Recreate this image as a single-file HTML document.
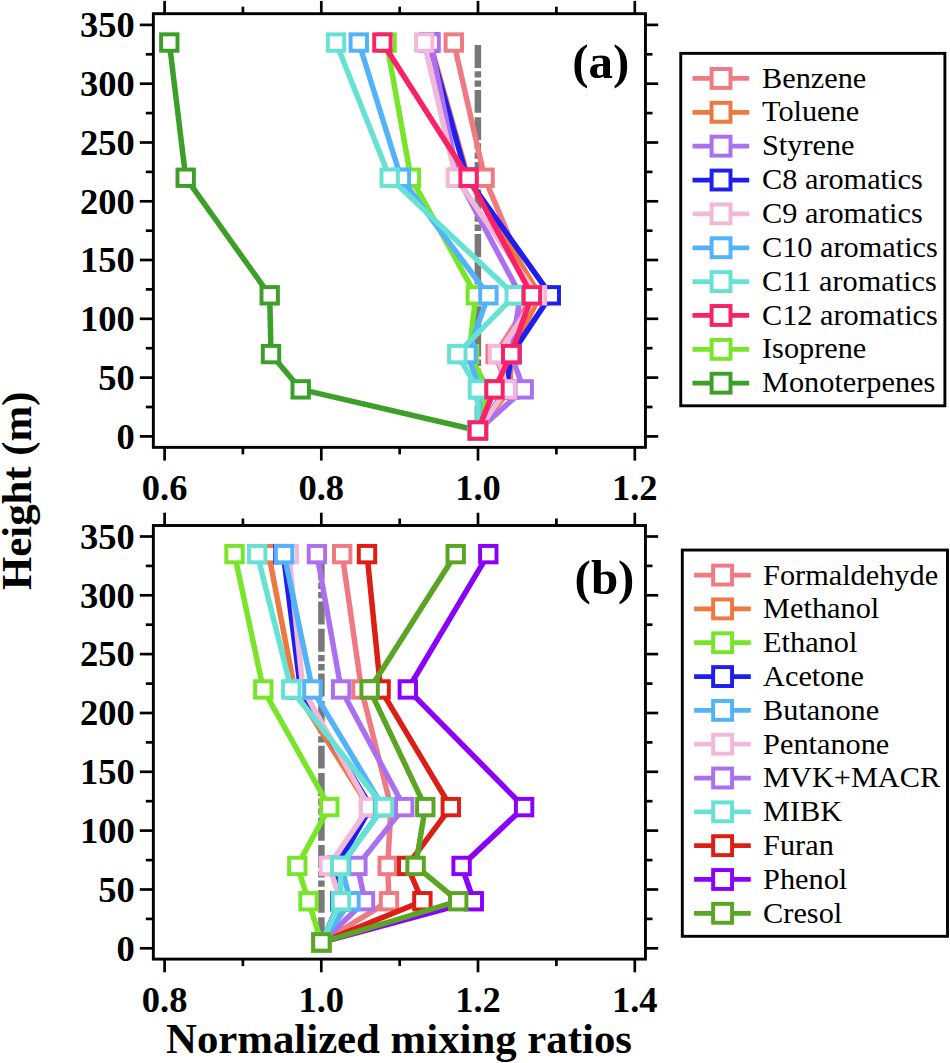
<!DOCTYPE html>
<html><head><meta charset="utf-8"><style>
html,body{margin:0;padding:0;background:#fff;}
svg{display:block;}
.tk{font-family:"Liberation Serif",serif;font-weight:bold;font-size:36.5px;fill:#000;}
.ax{font-family:"Liberation Serif",serif;font-weight:bold;font-size:42.8px;fill:#000;}
.pl{font-family:"Liberation Serif",serif;font-weight:bold;font-size:48px;fill:#000;}
.lg{font-family:"Liberation Serif",serif;font-size:30.3px;fill:#000;}
</style></head><body>
<svg width="950" height="1063" viewBox="0 0 950 1063">
<rect width="950" height="1063" fill="#fff"/>
<g stroke="#000" stroke-width="2.7">
<line x1="164.6" y1="447.4" x2="164.6" y2="460.6"/>
<line x1="164.6" y1="13.7" x2="164.6" y2="0.9"/>
<line x1="321.3" y1="447.4" x2="321.3" y2="460.6"/>
<line x1="321.3" y1="13.7" x2="321.3" y2="0.9"/>
<line x1="478.0" y1="447.4" x2="478.0" y2="460.6"/>
<line x1="478.0" y1="13.7" x2="478.0" y2="0.9"/>
<line x1="634.8" y1="447.4" x2="634.8" y2="460.6"/>
<line x1="634.8" y1="13.7" x2="634.8" y2="0.9"/>
<line x1="242.9" y1="447.4" x2="242.9" y2="454.4"/>
<line x1="242.9" y1="13.7" x2="242.9" y2="6.7"/>
<line x1="399.7" y1="447.4" x2="399.7" y2="454.4"/>
<line x1="399.7" y1="13.7" x2="399.7" y2="6.7"/>
<line x1="556.4" y1="447.4" x2="556.4" y2="454.4"/>
<line x1="556.4" y1="13.7" x2="556.4" y2="6.7"/>
<line x1="153.3" y1="436.4" x2="139.8" y2="436.4"/>
<line x1="645.5" y1="436.4" x2="658.2" y2="436.4"/>
<line x1="153.3" y1="377.6" x2="139.8" y2="377.6"/>
<line x1="645.5" y1="377.6" x2="658.2" y2="377.6"/>
<line x1="153.3" y1="318.8" x2="139.8" y2="318.8"/>
<line x1="645.5" y1="318.8" x2="658.2" y2="318.8"/>
<line x1="153.3" y1="260.0" x2="139.8" y2="260.0"/>
<line x1="645.5" y1="260.0" x2="658.2" y2="260.0"/>
<line x1="153.3" y1="201.3" x2="139.8" y2="201.3"/>
<line x1="645.5" y1="201.3" x2="658.2" y2="201.3"/>
<line x1="153.3" y1="142.5" x2="139.8" y2="142.5"/>
<line x1="645.5" y1="142.5" x2="658.2" y2="142.5"/>
<line x1="153.3" y1="83.7" x2="139.8" y2="83.7"/>
<line x1="645.5" y1="83.7" x2="658.2" y2="83.7"/>
<line x1="153.3" y1="24.9" x2="139.8" y2="24.9"/>
<line x1="645.5" y1="24.9" x2="658.2" y2="24.9"/>
<line x1="153.3" y1="407.0" x2="145.8" y2="407.0"/>
<line x1="645.5" y1="407.0" x2="652.5" y2="407.0"/>
<line x1="153.3" y1="348.2" x2="145.8" y2="348.2"/>
<line x1="645.5" y1="348.2" x2="652.5" y2="348.2"/>
<line x1="153.3" y1="289.4" x2="145.8" y2="289.4"/>
<line x1="645.5" y1="289.4" x2="652.5" y2="289.4"/>
<line x1="153.3" y1="230.7" x2="145.8" y2="230.7"/>
<line x1="645.5" y1="230.7" x2="652.5" y2="230.7"/>
<line x1="153.3" y1="171.9" x2="145.8" y2="171.9"/>
<line x1="645.5" y1="171.9" x2="652.5" y2="171.9"/>
<line x1="153.3" y1="113.1" x2="145.8" y2="113.1"/>
<line x1="645.5" y1="113.1" x2="652.5" y2="113.1"/>
<line x1="153.3" y1="54.3" x2="145.8" y2="54.3"/>
<line x1="645.5" y1="54.3" x2="652.5" y2="54.3"/>
<line x1="164.6" y1="959.1" x2="164.6" y2="972.3"/>
<line x1="164.6" y1="525.5" x2="164.6" y2="512.7"/>
<line x1="321.3" y1="959.1" x2="321.3" y2="972.3"/>
<line x1="321.3" y1="525.5" x2="321.3" y2="512.7"/>
<line x1="478.0" y1="959.1" x2="478.0" y2="972.3"/>
<line x1="478.0" y1="525.5" x2="478.0" y2="512.7"/>
<line x1="634.8" y1="959.1" x2="634.8" y2="972.3"/>
<line x1="634.8" y1="525.5" x2="634.8" y2="512.7"/>
<line x1="242.9" y1="959.1" x2="242.9" y2="966.1"/>
<line x1="242.9" y1="525.5" x2="242.9" y2="518.5"/>
<line x1="399.7" y1="959.1" x2="399.7" y2="966.1"/>
<line x1="399.7" y1="525.5" x2="399.7" y2="518.5"/>
<line x1="556.4" y1="959.1" x2="556.4" y2="966.1"/>
<line x1="556.4" y1="525.5" x2="556.4" y2="518.5"/>
<line x1="153.3" y1="948.3" x2="139.8" y2="948.3"/>
<line x1="645.5" y1="948.3" x2="658.2" y2="948.3"/>
<line x1="153.3" y1="889.5" x2="139.8" y2="889.5"/>
<line x1="645.5" y1="889.5" x2="658.2" y2="889.5"/>
<line x1="153.3" y1="830.6" x2="139.8" y2="830.6"/>
<line x1="645.5" y1="830.6" x2="658.2" y2="830.6"/>
<line x1="153.3" y1="771.8" x2="139.8" y2="771.8"/>
<line x1="645.5" y1="771.8" x2="658.2" y2="771.8"/>
<line x1="153.3" y1="713.0" x2="139.8" y2="713.0"/>
<line x1="645.5" y1="713.0" x2="658.2" y2="713.0"/>
<line x1="153.3" y1="654.1" x2="139.8" y2="654.1"/>
<line x1="645.5" y1="654.1" x2="658.2" y2="654.1"/>
<line x1="153.3" y1="595.3" x2="139.8" y2="595.3"/>
<line x1="645.5" y1="595.3" x2="658.2" y2="595.3"/>
<line x1="153.3" y1="536.5" x2="139.8" y2="536.5"/>
<line x1="645.5" y1="536.5" x2="658.2" y2="536.5"/>
<line x1="153.3" y1="918.9" x2="145.8" y2="918.9"/>
<line x1="645.5" y1="918.9" x2="652.5" y2="918.9"/>
<line x1="153.3" y1="860.1" x2="145.8" y2="860.1"/>
<line x1="645.5" y1="860.1" x2="652.5" y2="860.1"/>
<line x1="153.3" y1="801.2" x2="145.8" y2="801.2"/>
<line x1="645.5" y1="801.2" x2="652.5" y2="801.2"/>
<line x1="153.3" y1="742.4" x2="145.8" y2="742.4"/>
<line x1="645.5" y1="742.4" x2="652.5" y2="742.4"/>
<line x1="153.3" y1="683.6" x2="145.8" y2="683.6"/>
<line x1="645.5" y1="683.6" x2="652.5" y2="683.6"/>
<line x1="153.3" y1="624.7" x2="145.8" y2="624.7"/>
<line x1="645.5" y1="624.7" x2="652.5" y2="624.7"/>
<line x1="153.3" y1="565.9" x2="145.8" y2="565.9"/>
<line x1="645.5" y1="565.9" x2="652.5" y2="565.9"/>
</g>
<line x1="477.9" y1="45.1" x2="477.9" y2="430.5" stroke="#787878" stroke-width="6.5" stroke-dasharray="22.9 3.2 6.3 2.9 6.3 3.2 22.9 4.4"/>
<line x1="321.4" y1="556.7" x2="321.4" y2="942.4" stroke="#787878" stroke-width="6.5" stroke-dasharray="22.9 3.2 6.3 2.9 6.3 3.2 22.9 4.4"/>
<polyline points="477.9,430.5 300.7,389.4 271.0,354.1 269.7,295.3 185.7,177.7 169.3,42.5" fill="none" stroke="#3CA028" stroke-width="5.5" stroke-linejoin="miter"/>
<rect x="469.70" y="422.32" width="16.4" height="16.4" fill="#fff" stroke="#3CA028" stroke-width="3.95"/>
<rect x="292.50" y="381.17" width="16.4" height="16.4" fill="#fff" stroke="#3CA028" stroke-width="3.95"/>
<rect x="262.80" y="345.90" width="16.4" height="16.4" fill="#fff" stroke="#3CA028" stroke-width="3.95"/>
<rect x="261.50" y="287.12" width="16.4" height="16.4" fill="#fff" stroke="#3CA028" stroke-width="3.95"/>
<rect x="177.50" y="169.55" width="16.4" height="16.4" fill="#fff" stroke="#3CA028" stroke-width="3.95"/>
<rect x="161.10" y="34.34" width="16.4" height="16.4" fill="#fff" stroke="#3CA028" stroke-width="3.95"/>
<polyline points="477.9,430.5 488.0,389.4 469.0,354.1 475.8,295.3 410.9,177.7 386.6,42.5" fill="none" stroke="#78E628" stroke-width="5.5" stroke-linejoin="miter"/>
<rect x="469.70" y="422.32" width="16.4" height="16.4" fill="#fff" stroke="#78E628" stroke-width="3.95"/>
<rect x="479.80" y="381.17" width="16.4" height="16.4" fill="#fff" stroke="#78E628" stroke-width="3.95"/>
<rect x="460.80" y="345.90" width="16.4" height="16.4" fill="#fff" stroke="#78E628" stroke-width="3.95"/>
<rect x="467.60" y="287.12" width="16.4" height="16.4" fill="#fff" stroke="#78E628" stroke-width="3.95"/>
<rect x="402.70" y="169.55" width="16.4" height="16.4" fill="#fff" stroke="#78E628" stroke-width="3.95"/>
<rect x="378.40" y="34.34" width="16.4" height="16.4" fill="#fff" stroke="#78E628" stroke-width="3.95"/>
<polyline points="477.9,430.5 507.5,389.4 495.6,354.1 533.5,295.3 484.6,177.7 453.8,42.5" fill="none" stroke="#F07A82" stroke-width="5.5" stroke-linejoin="miter"/>
<rect x="469.70" y="422.32" width="16.4" height="16.4" fill="#fff" stroke="#F07A82" stroke-width="3.95"/>
<rect x="499.30" y="381.17" width="16.4" height="16.4" fill="#fff" stroke="#F07A82" stroke-width="3.95"/>
<rect x="487.40" y="345.90" width="16.4" height="16.4" fill="#fff" stroke="#F07A82" stroke-width="3.95"/>
<rect x="525.30" y="287.12" width="16.4" height="16.4" fill="#fff" stroke="#F07A82" stroke-width="3.95"/>
<rect x="476.40" y="169.55" width="16.4" height="16.4" fill="#fff" stroke="#F07A82" stroke-width="3.95"/>
<rect x="445.60" y="34.34" width="16.4" height="16.4" fill="#fff" stroke="#F07A82" stroke-width="3.95"/>
<polyline points="477.9,430.5 510.0,389.4 511.0,354.1 540.0,295.3 468.0,177.7 430.0,42.5" fill="none" stroke="#EE7840" stroke-width="5.5" stroke-linejoin="miter"/>
<rect x="469.70" y="422.32" width="16.4" height="16.4" fill="#fff" stroke="#EE7840" stroke-width="3.95"/>
<rect x="501.80" y="381.17" width="16.4" height="16.4" fill="#fff" stroke="#EE7840" stroke-width="3.95"/>
<rect x="502.80" y="345.90" width="16.4" height="16.4" fill="#fff" stroke="#EE7840" stroke-width="3.95"/>
<rect x="531.80" y="287.12" width="16.4" height="16.4" fill="#fff" stroke="#EE7840" stroke-width="3.95"/>
<rect x="459.80" y="169.55" width="16.4" height="16.4" fill="#fff" stroke="#EE7840" stroke-width="3.95"/>
<rect x="421.80" y="34.34" width="16.4" height="16.4" fill="#fff" stroke="#EE7840" stroke-width="3.95"/>
<polyline points="477.9,430.5 506.0,389.4 511.5,354.1 550.8,295.3 467.0,177.7 429.0,42.5" fill="none" stroke="#1E1EF0" stroke-width="5.5" stroke-linejoin="miter"/>
<rect x="469.70" y="422.32" width="16.4" height="16.4" fill="#fff" stroke="#1E1EF0" stroke-width="3.95"/>
<rect x="497.80" y="381.17" width="16.4" height="16.4" fill="#fff" stroke="#1E1EF0" stroke-width="3.95"/>
<rect x="503.30" y="345.90" width="16.4" height="16.4" fill="#fff" stroke="#1E1EF0" stroke-width="3.95"/>
<rect x="542.60" y="287.12" width="16.4" height="16.4" fill="#fff" stroke="#1E1EF0" stroke-width="3.95"/>
<rect x="458.80" y="169.55" width="16.4" height="16.4" fill="#fff" stroke="#1E1EF0" stroke-width="3.95"/>
<rect x="420.80" y="34.34" width="16.4" height="16.4" fill="#fff" stroke="#1E1EF0" stroke-width="3.95"/>
<polyline points="477.9,430.5 523.7,389.4 511.0,354.1 520.4,295.3 458.0,177.7 430.6,42.5" fill="none" stroke="#AA70F0" stroke-width="5.5" stroke-linejoin="miter"/>
<rect x="469.70" y="422.32" width="16.4" height="16.4" fill="#fff" stroke="#AA70F0" stroke-width="3.95"/>
<rect x="515.50" y="381.17" width="16.4" height="16.4" fill="#fff" stroke="#AA70F0" stroke-width="3.95"/>
<rect x="502.80" y="345.90" width="16.4" height="16.4" fill="#fff" stroke="#AA70F0" stroke-width="3.95"/>
<rect x="512.20" y="287.12" width="16.4" height="16.4" fill="#fff" stroke="#AA70F0" stroke-width="3.95"/>
<rect x="449.80" y="169.55" width="16.4" height="16.4" fill="#fff" stroke="#AA70F0" stroke-width="3.95"/>
<rect x="422.40" y="34.34" width="16.4" height="16.4" fill="#fff" stroke="#AA70F0" stroke-width="3.95"/>
<polyline points="477.9,430.5 506.6,389.4 498.0,354.1 537.0,295.3 455.9,177.7 424.2,42.5" fill="none" stroke="#F2B8DA" stroke-width="5.5" stroke-linejoin="miter"/>
<rect x="469.70" y="422.32" width="16.4" height="16.4" fill="#fff" stroke="#F2B8DA" stroke-width="3.95"/>
<rect x="498.40" y="381.17" width="16.4" height="16.4" fill="#fff" stroke="#F2B8DA" stroke-width="3.95"/>
<rect x="489.80" y="345.90" width="16.4" height="16.4" fill="#fff" stroke="#F2B8DA" stroke-width="3.95"/>
<rect x="528.80" y="287.12" width="16.4" height="16.4" fill="#fff" stroke="#F2B8DA" stroke-width="3.95"/>
<rect x="447.70" y="169.55" width="16.4" height="16.4" fill="#fff" stroke="#F2B8DA" stroke-width="3.95"/>
<rect x="416.00" y="34.34" width="16.4" height="16.4" fill="#fff" stroke="#F2B8DA" stroke-width="3.95"/>
<polyline points="477.9,430.5 480.0,389.4 467.4,354.1 488.4,295.3 400.9,177.7 358.8,42.5" fill="none" stroke="#52B2FA" stroke-width="5.5" stroke-linejoin="miter"/>
<rect x="469.70" y="422.32" width="16.4" height="16.4" fill="#fff" stroke="#52B2FA" stroke-width="3.95"/>
<rect x="471.80" y="381.17" width="16.4" height="16.4" fill="#fff" stroke="#52B2FA" stroke-width="3.95"/>
<rect x="459.20" y="345.90" width="16.4" height="16.4" fill="#fff" stroke="#52B2FA" stroke-width="3.95"/>
<rect x="480.20" y="287.12" width="16.4" height="16.4" fill="#fff" stroke="#52B2FA" stroke-width="3.95"/>
<rect x="392.70" y="169.55" width="16.4" height="16.4" fill="#fff" stroke="#52B2FA" stroke-width="3.95"/>
<rect x="350.60" y="34.34" width="16.4" height="16.4" fill="#fff" stroke="#52B2FA" stroke-width="3.95"/>
<polyline points="477.9,430.5 477.9,389.4 457.3,354.1 514.7,295.3 389.7,177.7 336.0,42.5" fill="none" stroke="#66E2D4" stroke-width="5.5" stroke-linejoin="miter"/>
<rect x="469.70" y="422.32" width="16.4" height="16.4" fill="#fff" stroke="#66E2D4" stroke-width="3.95"/>
<rect x="469.70" y="381.17" width="16.4" height="16.4" fill="#fff" stroke="#66E2D4" stroke-width="3.95"/>
<rect x="449.10" y="345.90" width="16.4" height="16.4" fill="#fff" stroke="#66E2D4" stroke-width="3.95"/>
<rect x="506.50" y="287.12" width="16.4" height="16.4" fill="#fff" stroke="#66E2D4" stroke-width="3.95"/>
<rect x="381.50" y="169.55" width="16.4" height="16.4" fill="#fff" stroke="#66E2D4" stroke-width="3.95"/>
<rect x="327.80" y="34.34" width="16.4" height="16.4" fill="#fff" stroke="#66E2D4" stroke-width="3.95"/>
<polyline points="477.9,430.5 494.5,389.4 511.2,354.1 531.9,295.3 468.6,177.7 382.4,42.5" fill="none" stroke="#FA2266" stroke-width="5.5" stroke-linejoin="miter"/>
<rect x="469.70" y="422.32" width="16.4" height="16.4" fill="#fff" stroke="#FA2266" stroke-width="3.95"/>
<rect x="486.30" y="381.17" width="16.4" height="16.4" fill="#fff" stroke="#FA2266" stroke-width="3.95"/>
<rect x="503.00" y="345.90" width="16.4" height="16.4" fill="#fff" stroke="#FA2266" stroke-width="3.95"/>
<rect x="523.70" y="287.12" width="16.4" height="16.4" fill="#fff" stroke="#FA2266" stroke-width="3.95"/>
<rect x="460.40" y="169.55" width="16.4" height="16.4" fill="#fff" stroke="#FA2266" stroke-width="3.95"/>
<rect x="374.20" y="34.34" width="16.4" height="16.4" fill="#fff" stroke="#FA2266" stroke-width="3.95"/>
<polyline points="321.4,942.4 389.0,901.2 387.7,865.9 391.0,807.1 361.5,689.4 342.2,554.1" fill="none" stroke="#F07A82" stroke-width="5.5" stroke-linejoin="miter"/>
<rect x="313.20" y="934.22" width="16.4" height="16.4" fill="#fff" stroke="#F07A82" stroke-width="3.95"/>
<rect x="380.80" y="893.04" width="16.4" height="16.4" fill="#fff" stroke="#F07A82" stroke-width="3.95"/>
<rect x="379.50" y="857.74" width="16.4" height="16.4" fill="#fff" stroke="#F07A82" stroke-width="3.95"/>
<rect x="382.80" y="798.91" width="16.4" height="16.4" fill="#fff" stroke="#F07A82" stroke-width="3.95"/>
<rect x="353.30" y="681.25" width="16.4" height="16.4" fill="#fff" stroke="#F07A82" stroke-width="3.95"/>
<rect x="334.00" y="545.94" width="16.4" height="16.4" fill="#fff" stroke="#F07A82" stroke-width="3.95"/>
<polyline points="321.4,942.4 422.4,901.2 407.2,865.9 450.8,807.1 380.6,689.4 367.0,554.1" fill="none" stroke="#DC1E14" stroke-width="5.5" stroke-linejoin="miter"/>
<rect x="313.20" y="934.22" width="16.4" height="16.4" fill="#fff" stroke="#DC1E14" stroke-width="3.95"/>
<rect x="414.20" y="893.04" width="16.4" height="16.4" fill="#fff" stroke="#DC1E14" stroke-width="3.95"/>
<rect x="399.00" y="857.74" width="16.4" height="16.4" fill="#fff" stroke="#DC1E14" stroke-width="3.95"/>
<rect x="442.60" y="798.91" width="16.4" height="16.4" fill="#fff" stroke="#DC1E14" stroke-width="3.95"/>
<rect x="372.40" y="681.25" width="16.4" height="16.4" fill="#fff" stroke="#DC1E14" stroke-width="3.95"/>
<rect x="358.80" y="545.94" width="16.4" height="16.4" fill="#fff" stroke="#DC1E14" stroke-width="3.95"/>
<polyline points="321.4,942.4 473.8,901.2 461.6,865.9 524.1,807.1 407.8,689.4 488.3,554.1" fill="none" stroke="#8A00FA" stroke-width="5.5" stroke-linejoin="miter"/>
<rect x="313.20" y="934.22" width="16.4" height="16.4" fill="#fff" stroke="#8A00FA" stroke-width="3.95"/>
<rect x="465.60" y="893.04" width="16.4" height="16.4" fill="#fff" stroke="#8A00FA" stroke-width="3.95"/>
<rect x="453.40" y="857.74" width="16.4" height="16.4" fill="#fff" stroke="#8A00FA" stroke-width="3.95"/>
<rect x="515.90" y="798.91" width="16.4" height="16.4" fill="#fff" stroke="#8A00FA" stroke-width="3.95"/>
<rect x="399.60" y="681.25" width="16.4" height="16.4" fill="#fff" stroke="#8A00FA" stroke-width="3.95"/>
<rect x="480.10" y="545.94" width="16.4" height="16.4" fill="#fff" stroke="#8A00FA" stroke-width="3.95"/>
<polyline points="321.4,942.4 365.0,901.2 357.4,865.9 404.2,807.1 341.1,689.4 316.9,554.1" fill="none" stroke="#AA70F0" stroke-width="5.5" stroke-linejoin="miter"/>
<rect x="313.20" y="934.22" width="16.4" height="16.4" fill="#fff" stroke="#AA70F0" stroke-width="3.95"/>
<rect x="356.80" y="893.04" width="16.4" height="16.4" fill="#fff" stroke="#AA70F0" stroke-width="3.95"/>
<rect x="349.20" y="857.74" width="16.4" height="16.4" fill="#fff" stroke="#AA70F0" stroke-width="3.95"/>
<rect x="396.00" y="798.91" width="16.4" height="16.4" fill="#fff" stroke="#AA70F0" stroke-width="3.95"/>
<rect x="332.90" y="681.25" width="16.4" height="16.4" fill="#fff" stroke="#AA70F0" stroke-width="3.95"/>
<rect x="308.70" y="545.94" width="16.4" height="16.4" fill="#fff" stroke="#AA70F0" stroke-width="3.95"/>
<polyline points="321.4,942.4 342.0,901.2 332.0,865.9 369.0,807.1 294.7,689.4 268.7,554.1" fill="none" stroke="#EE7840" stroke-width="5.5" stroke-linejoin="miter"/>
<rect x="313.20" y="934.22" width="16.4" height="16.4" fill="#fff" stroke="#EE7840" stroke-width="3.95"/>
<rect x="333.80" y="893.04" width="16.4" height="16.4" fill="#fff" stroke="#EE7840" stroke-width="3.95"/>
<rect x="323.80" y="857.74" width="16.4" height="16.4" fill="#fff" stroke="#EE7840" stroke-width="3.95"/>
<rect x="360.80" y="798.91" width="16.4" height="16.4" fill="#fff" stroke="#EE7840" stroke-width="3.95"/>
<rect x="286.50" y="681.25" width="16.4" height="16.4" fill="#fff" stroke="#EE7840" stroke-width="3.95"/>
<rect x="260.50" y="545.94" width="16.4" height="16.4" fill="#fff" stroke="#EE7840" stroke-width="3.95"/>
<polyline points="321.4,942.4 340.2,901.2 337.0,865.9 371.0,807.1 300.5,689.4 283.4,554.1" fill="none" stroke="#1E1EF0" stroke-width="5.5" stroke-linejoin="miter"/>
<rect x="313.20" y="934.22" width="16.4" height="16.4" fill="#fff" stroke="#1E1EF0" stroke-width="3.95"/>
<rect x="332.00" y="893.04" width="16.4" height="16.4" fill="#fff" stroke="#1E1EF0" stroke-width="3.95"/>
<rect x="328.80" y="857.74" width="16.4" height="16.4" fill="#fff" stroke="#1E1EF0" stroke-width="3.95"/>
<rect x="362.80" y="798.91" width="16.4" height="16.4" fill="#fff" stroke="#1E1EF0" stroke-width="3.95"/>
<rect x="292.30" y="681.25" width="16.4" height="16.4" fill="#fff" stroke="#1E1EF0" stroke-width="3.95"/>
<rect x="275.20" y="545.94" width="16.4" height="16.4" fill="#fff" stroke="#1E1EF0" stroke-width="3.95"/>
<polyline points="321.4,942.4 341.0,901.2 328.9,865.9 369.2,807.1 303.0,689.4 288.8,554.1" fill="none" stroke="#F2B8DA" stroke-width="5.5" stroke-linejoin="miter"/>
<rect x="313.20" y="934.22" width="16.4" height="16.4" fill="#fff" stroke="#F2B8DA" stroke-width="3.95"/>
<rect x="332.80" y="893.04" width="16.4" height="16.4" fill="#fff" stroke="#F2B8DA" stroke-width="3.95"/>
<rect x="320.70" y="857.74" width="16.4" height="16.4" fill="#fff" stroke="#F2B8DA" stroke-width="3.95"/>
<rect x="361.00" y="798.91" width="16.4" height="16.4" fill="#fff" stroke="#F2B8DA" stroke-width="3.95"/>
<rect x="294.80" y="681.25" width="16.4" height="16.4" fill="#fff" stroke="#F2B8DA" stroke-width="3.95"/>
<rect x="280.60" y="545.94" width="16.4" height="16.4" fill="#fff" stroke="#F2B8DA" stroke-width="3.95"/>
<polyline points="321.4,942.4 350.5,901.2 341.0,865.9 383.0,807.1 312.4,689.4 284.1,554.1" fill="none" stroke="#52B2FA" stroke-width="5.5" stroke-linejoin="miter"/>
<rect x="313.20" y="934.22" width="16.4" height="16.4" fill="#fff" stroke="#52B2FA" stroke-width="3.95"/>
<rect x="342.30" y="893.04" width="16.4" height="16.4" fill="#fff" stroke="#52B2FA" stroke-width="3.95"/>
<rect x="332.80" y="857.74" width="16.4" height="16.4" fill="#fff" stroke="#52B2FA" stroke-width="3.95"/>
<rect x="374.80" y="798.91" width="16.4" height="16.4" fill="#fff" stroke="#52B2FA" stroke-width="3.95"/>
<rect x="304.20" y="681.25" width="16.4" height="16.4" fill="#fff" stroke="#52B2FA" stroke-width="3.95"/>
<rect x="275.90" y="545.94" width="16.4" height="16.4" fill="#fff" stroke="#52B2FA" stroke-width="3.95"/>
<polyline points="321.4,942.4 341.0,901.2 340.2,865.9 384.0,807.1 291.3,689.4 257.2,554.1" fill="none" stroke="#66E2D4" stroke-width="5.5" stroke-linejoin="miter"/>
<rect x="313.20" y="934.22" width="16.4" height="16.4" fill="#fff" stroke="#66E2D4" stroke-width="3.95"/>
<rect x="332.80" y="893.04" width="16.4" height="16.4" fill="#fff" stroke="#66E2D4" stroke-width="3.95"/>
<rect x="332.00" y="857.74" width="16.4" height="16.4" fill="#fff" stroke="#66E2D4" stroke-width="3.95"/>
<rect x="375.80" y="798.91" width="16.4" height="16.4" fill="#fff" stroke="#66E2D4" stroke-width="3.95"/>
<rect x="283.10" y="681.25" width="16.4" height="16.4" fill="#fff" stroke="#66E2D4" stroke-width="3.95"/>
<rect x="249.00" y="545.94" width="16.4" height="16.4" fill="#fff" stroke="#66E2D4" stroke-width="3.95"/>
<polyline points="321.4,942.4 308.5,901.2 297.3,865.9 329.3,807.1 263.3,689.4 234.5,554.1" fill="none" stroke="#78E628" stroke-width="5.5" stroke-linejoin="miter"/>
<rect x="313.20" y="934.22" width="16.4" height="16.4" fill="#fff" stroke="#78E628" stroke-width="3.95"/>
<rect x="300.30" y="893.04" width="16.4" height="16.4" fill="#fff" stroke="#78E628" stroke-width="3.95"/>
<rect x="289.10" y="857.74" width="16.4" height="16.4" fill="#fff" stroke="#78E628" stroke-width="3.95"/>
<rect x="321.10" y="798.91" width="16.4" height="16.4" fill="#fff" stroke="#78E628" stroke-width="3.95"/>
<rect x="255.10" y="681.25" width="16.4" height="16.4" fill="#fff" stroke="#78E628" stroke-width="3.95"/>
<rect x="226.30" y="545.94" width="16.4" height="16.4" fill="#fff" stroke="#78E628" stroke-width="3.95"/>
<polyline points="321.4,942.4 458.2,901.2 415.6,865.9 425.3,807.1 369.6,689.4 455.7,554.1" fill="none" stroke="#5AA523" stroke-width="5.5" stroke-linejoin="miter"/>
<rect x="313.20" y="934.22" width="16.4" height="16.4" fill="#fff" stroke="#5AA523" stroke-width="3.95"/>
<rect x="450.00" y="893.04" width="16.4" height="16.4" fill="#fff" stroke="#5AA523" stroke-width="3.95"/>
<rect x="407.40" y="857.74" width="16.4" height="16.4" fill="#fff" stroke="#5AA523" stroke-width="3.95"/>
<rect x="417.10" y="798.91" width="16.4" height="16.4" fill="#fff" stroke="#5AA523" stroke-width="3.95"/>
<rect x="361.40" y="681.25" width="16.4" height="16.4" fill="#fff" stroke="#5AA523" stroke-width="3.95"/>
<rect x="447.50" y="545.94" width="16.4" height="16.4" fill="#fff" stroke="#5AA523" stroke-width="3.95"/>
<rect x="153.35" y="13.7" width="492.10" height="433.65" fill="none" stroke="#000" stroke-width="2.9"/>
<rect x="153.35" y="525.5" width="492.10" height="433.60" fill="none" stroke="#000" stroke-width="2.9"/>
<text x="164.6" y="500.0" class="tk" text-anchor="middle">0.6</text>
<text x="321.3" y="500.0" class="tk" text-anchor="middle">0.8</text>
<text x="478.0" y="500.0" class="tk" text-anchor="middle">1.0</text>
<text x="634.8" y="500.0" class="tk" text-anchor="middle">1.2</text>
<text x="164.6" y="1012.4" class="tk" text-anchor="middle">0.8</text>
<text x="321.3" y="1012.4" class="tk" text-anchor="middle">1.0</text>
<text x="478.0" y="1012.4" class="tk" text-anchor="middle">1.2</text>
<text x="634.8" y="1012.4" class="tk" text-anchor="middle">1.4</text>
<text x="134.8" y="448.6" class="tk" text-anchor="end">0</text>
<text x="134.8" y="960.5" class="tk" text-anchor="end">0</text>
<text x="134.8" y="389.8" class="tk" text-anchor="end">50</text>
<text x="134.8" y="901.7" class="tk" text-anchor="end">50</text>
<text x="134.8" y="331.0" class="tk" text-anchor="end">100</text>
<text x="134.8" y="842.8" class="tk" text-anchor="end">100</text>
<text x="134.8" y="272.2" class="tk" text-anchor="end">150</text>
<text x="134.8" y="784.0" class="tk" text-anchor="end">150</text>
<text x="134.8" y="213.5" class="tk" text-anchor="end">200</text>
<text x="134.8" y="725.2" class="tk" text-anchor="end">200</text>
<text x="134.8" y="154.7" class="tk" text-anchor="end">250</text>
<text x="134.8" y="666.3" class="tk" text-anchor="end">250</text>
<text x="134.8" y="95.9" class="tk" text-anchor="end">300</text>
<text x="134.8" y="607.5" class="tk" text-anchor="end">300</text>
<text x="134.8" y="37.1" class="tk" text-anchor="end">350</text>
<text x="134.8" y="548.7" class="tk" text-anchor="end">350</text>
<text x="0" y="0" class="pl" transform="translate(572.2,78.0) scale(1.02,1)">(a)</text>
<text x="0" y="0" class="pl" transform="translate(574.6,593.6) scale(1.02,1)">(b)</text>
<rect x="680.75" y="53.35" width="264.15" height="352.45" fill="#fff" stroke="#000" stroke-width="2.9"/>
<line x1="692.5" y1="78.45" x2="749.2" y2="78.45" stroke="#F07A82" stroke-width="4.75"/>
<rect x="711.60" y="69.00" width="18.9" height="18.9" fill="#fff" stroke="#F07A82" stroke-width="3.95"/>
<text x="762.0" y="87.55" class="lg">Benzene</text>
<line x1="692.5" y1="112.31" x2="749.2" y2="112.31" stroke="#EE7840" stroke-width="4.75"/>
<rect x="711.60" y="102.86" width="18.9" height="18.9" fill="#fff" stroke="#EE7840" stroke-width="3.95"/>
<text x="762.0" y="121.41" class="lg">Toluene</text>
<line x1="692.5" y1="146.17" x2="749.2" y2="146.17" stroke="#AA70F0" stroke-width="4.75"/>
<rect x="711.60" y="136.72" width="18.9" height="18.9" fill="#fff" stroke="#AA70F0" stroke-width="3.95"/>
<text x="762.0" y="155.27" class="lg">Styrene</text>
<line x1="692.5" y1="180.03" x2="749.2" y2="180.03" stroke="#1E1EF0" stroke-width="4.75"/>
<rect x="711.60" y="170.58" width="18.9" height="18.9" fill="#fff" stroke="#1E1EF0" stroke-width="3.95"/>
<text x="762.0" y="189.13" class="lg">C8 aromatics</text>
<line x1="692.5" y1="213.89" x2="749.2" y2="213.89" stroke="#F2B8DA" stroke-width="4.75"/>
<rect x="711.60" y="204.44" width="18.9" height="18.9" fill="#fff" stroke="#F2B8DA" stroke-width="3.95"/>
<text x="762.0" y="222.99" class="lg">C9 aromatics</text>
<line x1="692.5" y1="247.75" x2="749.2" y2="247.75" stroke="#52B2FA" stroke-width="4.75"/>
<rect x="711.60" y="238.30" width="18.9" height="18.9" fill="#fff" stroke="#52B2FA" stroke-width="3.95"/>
<text x="762.0" y="256.85" class="lg">C10 aromatics</text>
<line x1="692.5" y1="281.61" x2="749.2" y2="281.61" stroke="#66E2D4" stroke-width="4.75"/>
<rect x="711.60" y="272.16" width="18.9" height="18.9" fill="#fff" stroke="#66E2D4" stroke-width="3.95"/>
<text x="762.0" y="290.71" class="lg">C11 aromatics</text>
<line x1="692.5" y1="315.47" x2="749.2" y2="315.47" stroke="#FA2266" stroke-width="4.75"/>
<rect x="711.60" y="306.02" width="18.9" height="18.9" fill="#fff" stroke="#FA2266" stroke-width="3.95"/>
<text x="762.0" y="324.57" class="lg">C12 aromatics</text>
<line x1="692.5" y1="349.33" x2="749.2" y2="349.33" stroke="#78E628" stroke-width="4.75"/>
<rect x="711.60" y="339.88" width="18.9" height="18.9" fill="#fff" stroke="#78E628" stroke-width="3.95"/>
<text x="762.0" y="358.43" class="lg">Isoprene</text>
<line x1="692.5" y1="383.19" x2="749.2" y2="383.19" stroke="#3CA028" stroke-width="4.75"/>
<rect x="711.60" y="373.74" width="18.9" height="18.9" fill="#fff" stroke="#3CA028" stroke-width="3.95"/>
<text x="762.0" y="392.29" class="lg">Monoterpenes</text>
<rect x="682.30" y="550.05" width="265.20" height="386.25" fill="#fff" stroke="#000" stroke-width="2.9"/>
<line x1="694.1" y1="575.10" x2="750.8" y2="575.10" stroke="#F07A82" stroke-width="4.75"/>
<rect x="713.15" y="565.65" width="18.9" height="18.9" fill="#fff" stroke="#F07A82" stroke-width="3.95"/>
<text x="763.1" y="584.50" class="lg">Formaldehyde</text>
<line x1="694.1" y1="608.92" x2="750.8" y2="608.92" stroke="#EE7840" stroke-width="4.75"/>
<rect x="713.15" y="599.47" width="18.9" height="18.9" fill="#fff" stroke="#EE7840" stroke-width="3.95"/>
<text x="763.1" y="618.32" class="lg">Methanol</text>
<line x1="694.1" y1="642.74" x2="750.8" y2="642.74" stroke="#78E628" stroke-width="4.75"/>
<rect x="713.15" y="633.29" width="18.9" height="18.9" fill="#fff" stroke="#78E628" stroke-width="3.95"/>
<text x="763.1" y="652.14" class="lg">Ethanol</text>
<line x1="694.1" y1="676.56" x2="750.8" y2="676.56" stroke="#1E1EF0" stroke-width="4.75"/>
<rect x="713.15" y="667.11" width="18.9" height="18.9" fill="#fff" stroke="#1E1EF0" stroke-width="3.95"/>
<text x="763.1" y="685.96" class="lg">Acetone</text>
<line x1="694.1" y1="710.38" x2="750.8" y2="710.38" stroke="#52B2FA" stroke-width="4.75"/>
<rect x="713.15" y="700.93" width="18.9" height="18.9" fill="#fff" stroke="#52B2FA" stroke-width="3.95"/>
<text x="763.1" y="719.78" class="lg">Butanone</text>
<line x1="694.1" y1="744.20" x2="750.8" y2="744.20" stroke="#F2B8DA" stroke-width="4.75"/>
<rect x="713.15" y="734.75" width="18.9" height="18.9" fill="#fff" stroke="#F2B8DA" stroke-width="3.95"/>
<text x="763.1" y="753.60" class="lg">Pentanone</text>
<line x1="694.1" y1="778.02" x2="750.8" y2="778.02" stroke="#AA70F0" stroke-width="4.75"/>
<rect x="713.15" y="768.57" width="18.9" height="18.9" fill="#fff" stroke="#AA70F0" stroke-width="3.95"/>
<text x="763.1" y="787.42" class="lg">MVK+MACR</text>
<line x1="694.1" y1="811.84" x2="750.8" y2="811.84" stroke="#66E2D4" stroke-width="4.75"/>
<rect x="713.15" y="802.39" width="18.9" height="18.9" fill="#fff" stroke="#66E2D4" stroke-width="3.95"/>
<text x="763.1" y="821.24" class="lg">MIBK</text>
<line x1="694.1" y1="845.66" x2="750.8" y2="845.66" stroke="#DC1E14" stroke-width="4.75"/>
<rect x="713.15" y="836.21" width="18.9" height="18.9" fill="#fff" stroke="#DC1E14" stroke-width="3.95"/>
<text x="763.1" y="855.06" class="lg">Furan</text>
<line x1="694.1" y1="879.48" x2="750.8" y2="879.48" stroke="#8A00FA" stroke-width="4.75"/>
<rect x="713.15" y="870.03" width="18.9" height="18.9" fill="#fff" stroke="#8A00FA" stroke-width="3.95"/>
<text x="763.1" y="888.88" class="lg">Phenol</text>
<line x1="694.1" y1="913.30" x2="750.8" y2="913.30" stroke="#5AA523" stroke-width="4.75"/>
<rect x="713.15" y="903.85" width="18.9" height="18.9" fill="#fff" stroke="#5AA523" stroke-width="3.95"/>
<text x="763.1" y="922.70" class="lg">Cresol</text>
<text x="166" y="1052.9" class="ax">Normalized mixing ratios</text>
<text transform="translate(30.6,590) rotate(-90)" x="0" y="0" class="ax">Height (m)</text>
</svg>
</body></html>
